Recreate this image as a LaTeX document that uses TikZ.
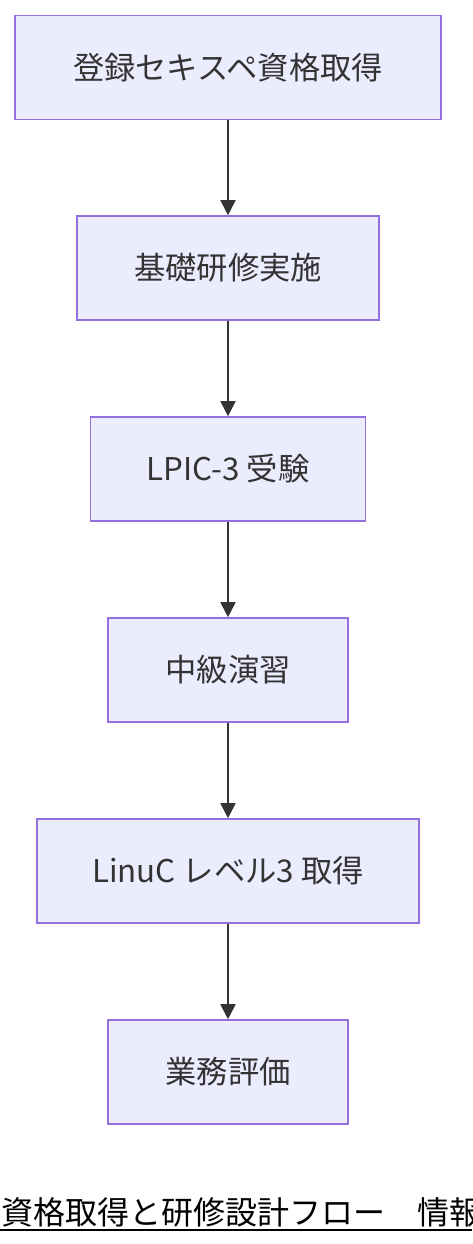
\documentclass[tikz,border=0pt]{standalone}
\usepackage{fontspec}
\setmainfont{Noto Sans CJK JP}
\usetikzlibrary{arrows.meta}
\definecolor{boxFill}{HTML}{ECECFF}
\definecolor{boxLine}{HTML}{9370DB}
\definecolor{darkGray}{HTML}{333333}

\tikzstyle{bS}=[rectangle,minimum height = 104pt,inner sep = 0pt,draw=boxLine,line width=1.6pt,fill=boxFill,text=darkGray,font=\fontsize{31.3}{36}\selectfont,align=center]
\tikzstyle{aS}=[draw=darkGray,line width=1.8pt,-{Triangle[length=15pt,width=15pt]}]

\begin{document}
\begin{tikzpicture}[x=1pt,y=-1pt]
    \useasboundingbox (0,0) rectangle (472,1244);
    \draw (228,67.5) node[bS,minimum width=426pt] (reg) {登録セキスペ資格取得};
    \draw (228,268) node[bS,minimum width=302pt] (base) {基礎研修実施};
    \draw (228,469) node[bS,minimum width=275pt] (lpic) {LPIC-3 受験};
    \draw (228,670) node[bS,minimum width=240pt] (mid) {中級演習};
    \draw (228,871) node[bS,minimum width=382pt] (linuc) {LinuC レベル3 取得};
    \draw (228,1072) node[bS,minimum width=240pt] (eval) {業務評価};

    % title at the bottom, cut off by the page edge
    \draw (1,1212) node[anchor=west,inner sep=0pt,font=\fontsize{32}{37}\selectfont] (title) {資格取得と研修設計フロー　情報};
    \coordinate (ulL) at (0,1230);
    \coordinate (ulR) at (472,1230);
    \draw[line width=2pt] (ulL) -- (ulR);

    \path
        (reg) edge[aS] (base)
        (base) edge[aS] (lpic)
        (lpic) edge[aS] (mid)
        (mid) edge[aS] (linuc)
        (linuc) edge[aS] (eval)
    ;
\end{tikzpicture}
\end{document}
